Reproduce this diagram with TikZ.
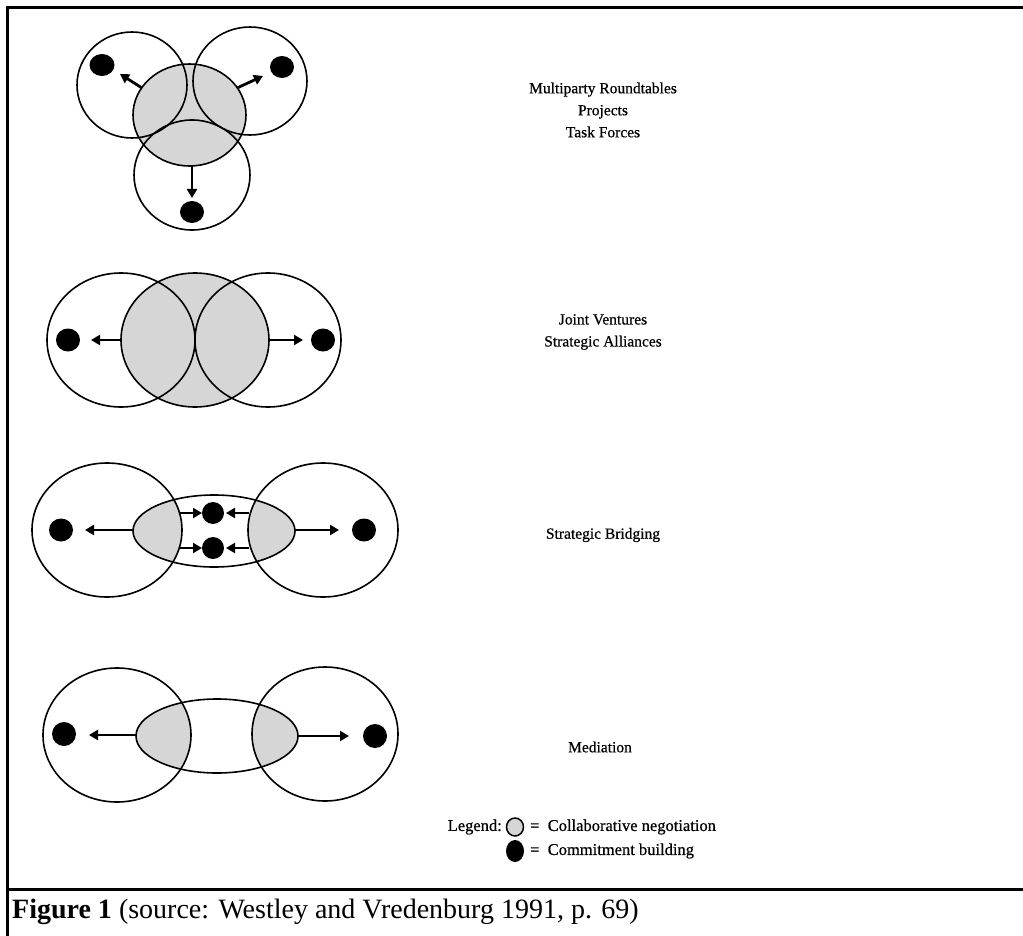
\documentclass[tikz,border=0pt]{standalone}
\usepackage{fontspec}
\setmainfont{Liberation Serif}
\newfontfamily\lblfont[FakeBold=0.6]{Liberation Serif}
\usetikzlibrary{arrows.meta}
\definecolor{halftone}{gray}{0.84}
\tikzset{
  ring/.style={draw=black, line width=1.6pt},
  shaded/.style={fill=halftone},
  dotnode/.style={fill=black},
  flow/.style={line width=2.8pt, -{Triangle[length=9pt,width=10pt]}},
  lbl/.style={font=\lblfont\fontsize{15.5}{22}\selectfont, align=center, inner sep=0pt},
  legtext/.style={font=\lblfont\fontsize{16.5}{20}\selectfont, inner sep=0pt},
  frameline/.style={line width=3pt}
}
\begin{document}
\begin{tikzpicture}[x=1pt,y=-1pt]
\useasboundingbox (0,0) rectangle (1023,936);
% frame
\draw[frameline] (1023,7.5) -- (7.5,7.5) -- (7.5,936);
\draw[frameline] (7.5,889.5) -- (1023,889.5);

% ---------- Diagram 1 ----------
\fill[shaded] (189.5,115) ellipse [x radius=56.5pt, y radius=51pt];
\draw[ring] (189.5,115) ellipse [x radius=56.5pt, y radius=51pt];
\draw[ring] (132,85) ellipse [x radius=55pt, y radius=53pt];
\draw[ring] (250,81) ellipse [x radius=57pt, y radius=54pt];
\draw[ring] (192,175) ellipse [x radius=58pt, y radius=55pt];
\fill[dotnode] (102,65) ellipse [x radius=12.5pt, y radius=11pt];
\fill[dotnode] (282,67) ellipse [x radius=12pt, y radius=11pt];
\fill[dotnode] (192,212) ellipse [x radius=12pt, y radius=11pt];
\coordinate (a1s) at (142,88); \coordinate (a1e) at (120,74);
\coordinate (a2s) at (237,88); \coordinate (a2e) at (263,76);
\coordinate (a3s) at (192,166); \coordinate (a3e) at (192,198);
\draw[flow] (a1s) -- (a1e);
\draw[flow] (a2s) -- (a2e);
\draw[flow] (a3s) -- (a3e);

% ---------- Diagram 2 ----------
\fill[shaded] (195,340) ellipse [x radius=74pt, y radius=67pt];
\draw[ring] (195,340) ellipse [x radius=74pt, y radius=67pt];
\draw[ring] (121,340) ellipse [x radius=74pt, y radius=67pt];
\draw[ring] (268,340) ellipse [x radius=73pt, y radius=67pt];
\fill[dotnode] (68,340) ellipse [x radius=12pt, y radius=11.5pt];
\fill[dotnode] (323,340) ellipse [x radius=12pt, y radius=11.5pt];
\coordinate (b1s) at (121,340); \coordinate (b1e) at (91,340);
\coordinate (b2s) at (269,340); \coordinate (b2e) at (303,340);
\draw[flow] (b1s) -- (b1e);
\draw[flow] (b2s) -- (b2e);

% ---------- Diagram 3 ----------
\begin{scope}
  \clip (214,531) ellipse [x radius=81pt, y radius=36pt];
  \fill[shaded] (107,530) ellipse [x radius=75pt, y radius=67pt];
  \fill[shaded] (323,530) ellipse [x radius=75pt, y radius=67pt];
\end{scope}
\draw[ring] (107,530) ellipse [x radius=75pt, y radius=67pt];
\draw[ring] (323,530) ellipse [x radius=75pt, y radius=67pt];
\draw[ring] (214,531) ellipse [x radius=81pt, y radius=36pt];
\fill[dotnode] (61,530) ellipse [x radius=12pt, y radius=11.5pt];
\fill[dotnode] (364,530) ellipse [x radius=12pt, y radius=11.5pt];
\fill[dotnode] (213,513) ellipse [x radius=11pt, y radius=11pt];
\fill[dotnode] (213,548) ellipse [x radius=11pt, y radius=11pt];
\coordinate (c1s) at (133,530); \coordinate (c1e) at (85,530);
\coordinate (c2s) at (295,530); \coordinate (c2e) at (339,530);
\coordinate (c3s) at (180,513); \coordinate (c3e) at (202,513);
\coordinate (c4s) at (180,548); \coordinate (c4e) at (202,548);
\coordinate (c5s) at (249,513); \coordinate (c5e) at (226,513);
\coordinate (c6s) at (249,548); \coordinate (c6e) at (226,548);
\draw[flow] (c1s) -- (c1e);
\draw[flow] (c2s) -- (c2e);
\draw[flow] (c3s) -- (c3e);
\draw[flow] (c4s) -- (c4e);
\draw[flow] (c5s) -- (c5e);
\draw[flow] (c6s) -- (c6e);

% ---------- Diagram 4 ----------
\begin{scope}
  \clip (217,736) ellipse [x radius=81pt, y radius=37pt];
  \fill[shaded] (117,735) ellipse [x radius=74pt, y radius=67pt];
  \fill[shaded] (325,734) ellipse [x radius=73pt, y radius=67pt];
\end{scope}
\draw[ring] (117,735) ellipse [x radius=74pt, y radius=67pt];
\draw[ring] (325,734) ellipse [x radius=73pt, y radius=67pt];
\draw[ring] (217,736) ellipse [x radius=81pt, y radius=37pt];
\fill[dotnode] (64,734) ellipse [x radius=12pt, y radius=12pt];
\fill[dotnode] (375,736) ellipse [x radius=12pt, y radius=12pt];
\coordinate (d1s) at (136,735); \coordinate (d1e) at (89,735);
\coordinate (d2s) at (298,736); \coordinate (d2e) at (349,736);
\draw[flow] (d1s) -- (d1e);
\draw[flow] (d2s) -- (d2e);

% ---------- Labels ----------
\node[lbl] (t1) at (603,110) {Multiparty Roundtables\\Projects\\Task Forces};
\node[lbl] (t2) at (603,332) {Joint Ventures\\Strategic Alliances};
\node[lbl] (t3) at (603,535) {Strategic Bridging};
\node[lbl] (t4) at (600,747) {Mediation};

% ---------- Legend ----------
\node[legtext, anchor=east] (lg) at (502,827) {Legend:};
\filldraw[fill=halftone, draw=black, line width=1.5pt] (515,827) ellipse [x radius=8.5pt, y radius=9pt];
\node[legtext, anchor=west] (lg1) at (530,827) {=\hspace{0.5em}Collaborative negotiation};
\fill[black] (515,851) ellipse [x radius=9pt, y radius=11pt];
\node[legtext, anchor=west] (lg2) at (530,851) {=\hspace{0.5em}Commitment building};

% ---------- Caption ----------
\node[anchor=base west, inner sep=0pt, font=\fontsize{28}{31}\selectfont] (cap) at (12,918)
  {\textbf{Figure 1} (source: Westley and Vredenburg 1991, p. 69)};
\end{tikzpicture}
\end{document}
